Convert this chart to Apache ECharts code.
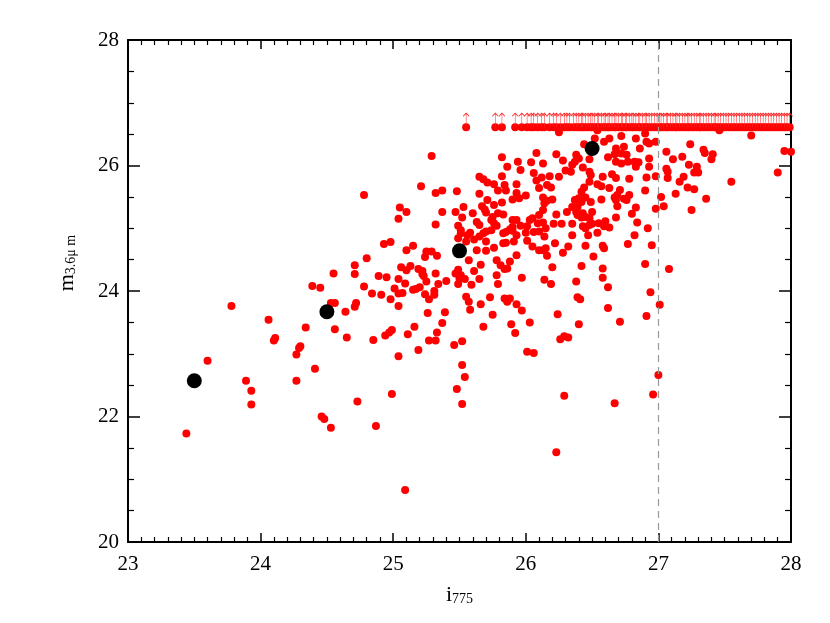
<!DOCTYPE html>
<html>
<head>
<meta charset="utf-8">
<script src="https://cdn.jsdelivr.net/npm/echarts@6/dist/echarts.min.js"></script>
<style>
  html, body { margin: 0; padding: 0; background: #fff; }
  #chart { width: 830px; height: 623px; }
</style>
</head>
<body>
<div id="chart"></div>
<script>
// detected sources [i775, m3.6um]
var detected = [
  [23.44,21.73],[23.60,22.89],[23.78,23.76],[23.89,22.57],[23.93,22.41],[23.93,22.19],[24.06,23.54],
  [24.10,23.21],[24.11,23.25],[24.27,22.99],[24.29,23.09],[24.30,23.12],[24.27,22.57],[24.34,23.42],
  [24.39,24.08],[24.45,24.05],[24.41,22.76],[24.53,23.81],[24.56,23.81],[24.56,23.39],[24.46,22.00],
  [24.48,21.96],[24.53,21.82],[24.73,22.24],[24.55,24.28],
  [24.87,21.85],[24.99,22.36],[25.09,20.83],[25.48,22.44],[25.54,22.63],[25.52,22.20],
  [25.65,25.82],[25.68,25.78],[25.71,25.73],[25.82,25.83],[25.76,25.70],[25.84,25.69],[25.93,25.70],
  [25.96,25.93],[26.06,25.88],[26.08,25.76],[24.78,25.53],[25.21,25.67],[25.32,25.56],[25.37,25.60],
  [25.48,25.59],[25.65,25.55],[25.79,25.60],[25.85,25.60],[25.93,25.56],[25.90,25.46],[25.95,25.48],
  [26.00,25.52],[26.10,25.64],[25.71,25.45],[25.82,25.41],[25.76,25.37],[25.67,25.35],[25.69,25.30],
  [25.70,25.25],[25.53,25.34],[25.37,25.26],[25.47,25.26],[25.05,25.33],[25.10,25.26],[25.04,25.15],
  [25.32,25.06],[25.49,25.04],[25.52,25.17],[25.60,25.24],[25.63,25.10],[25.65,25.05],[25.79,25.24],
  [25.83,25.22],[25.74,25.13],[25.76,25.08],[25.75,25.18],[25.90,25.13],[25.93,25.13],[26.05,25.16],
  [26.03,25.13],[26.01,25.03],[25.96,25.04],[25.90,25.02],[25.68,24.92],[25.70,24.95],[25.74,24.97],
  [25.78,25.04],[25.83,24.92],[25.85,24.94],[25.88,24.98],[25.90,24.96],[25.93,24.89],[26.00,24.93],
  [26.06,24.94],[26.09,25.08],[25.51,24.92],[25.56,24.89],[25.58,24.93],[25.65,24.87],[25.70,24.79],
  [25.61,24.82],[25.55,24.79],[25.49,24.84],[25.51,24.97],[24.93,24.75],[24.98,24.78],[25.15,24.72],
  [25.10,24.65],[25.25,24.63],[25.29,24.63],[25.24,24.54],[25.33,24.56],[24.80,24.52],[24.71,24.41],
  [24.71,24.27],[25.06,24.38],[25.13,24.40],[25.10,24.33],[25.19,24.35],[25.22,24.32],[25.23,24.24],
  [25.25,24.15],[25.32,24.28],[25.22,24.27],[24.89,24.24],[24.95,24.22],[25.04,24.19],[25.09,24.12],
  [25.40,24.16],[25.49,24.34],[25.47,24.28],[25.51,24.25],[25.49,24.11],[25.50,24.20],[25.54,24.19],
  [25.59,24.10],[25.65,24.19],[25.61,24.32],[25.66,24.42],[25.57,24.49],[25.63,24.65],[25.70,24.64],
  [25.76,24.69],[25.83,24.76],[25.85,24.77],[25.91,24.79],[25.93,24.57],[26.01,24.80],[26.05,24.71],
  [26.10,24.65],[25.78,24.49],[25.81,24.41],[25.84,24.35],[25.88,24.47],[25.86,24.36],[25.78,24.25],
  [25.79,24.11],[25.97,24.21],[24.78,24.07],[24.84,23.96],[24.91,23.94],[24.98,23.87],[25.01,24.04],
  [25.04,23.96],[25.07,23.97],[25.15,24.02],[25.20,24.06],[25.17,24.03],[25.24,23.95],[25.31,24.00],
  [25.31,23.94],[25.34,24.11],[25.27,23.87],[25.04,23.76],[24.64,23.67],[24.71,23.75],[24.72,23.81],
  [25.55,23.91],[25.57,23.83],[25.58,23.70],[25.66,23.79],[25.73,23.90],[25.84,23.88],[25.86,23.83],
  [25.88,23.88],[25.93,23.79],[25.97,23.69],[25.26,23.65],[25.39,23.66],[25.75,23.62],[25.37,23.49],
  [25.16,23.43],[25.33,23.34],[25.11,23.31],[24.99,23.38],[24.97,23.34],[24.94,23.29],[24.65,23.26],
  [24.85,23.22],[25.27,23.21],[25.32,23.21],[25.46,23.14],[25.52,23.20],[25.19,23.06],[25.04,22.96],
  [25.68,23.43],[25.89,23.47],[25.92,23.33],[26.03,23.50],[26.01,23.03],[26.06,23.01],[25.52,22.82],
  [26.25,26.53],[26.54,26.56],[26.52,26.43],[26.44,26.34],[26.59,26.38],[26.63,26.43],[26.72,26.47],
  [26.83,26.43],[26.90,26.51],[26.91,26.38],[26.93,26.35],[26.98,26.38],[26.68,26.27],[26.74,26.30],
  [26.86,26.27],[26.72,26.19],[26.67,26.18],[26.76,26.17],[26.23,26.18],[26.38,26.17],[26.40,26.11],
  [26.37,26.06],[26.28,26.08],[26.35,26.01],[26.62,26.13],[26.68,26.06],[26.72,26.03],[26.77,26.06],
  [26.82,26.06],[26.85,26.05],[26.93,26.11],[27.06,26.22],[26.13,26.03],[26.83,25.98],[26.93,25.98],
  [27.06,25.95],[26.34,25.90],[26.30,25.92],[26.43,25.97],[26.48,26.10],[26.25,25.82],[26.18,25.83],
  [26.12,25.81],[26.48,25.90],[26.49,25.85],[26.48,25.74],[26.58,25.82],[26.65,25.86],[26.68,25.80],
  [26.78,25.79],[26.91,25.81],[26.98,25.83],[27.07,25.90],[27.07,25.80],[26.16,25.69],[26.19,25.65],
  [26.44,25.65],[26.42,25.58],[26.54,25.70],[26.57,25.67],[26.63,25.64],[26.71,25.61],[26.69,25.53],
  [26.67,25.49],[26.76,25.45],[26.78,25.53],[26.74,25.47],[26.90,25.60],[27.02,25.50],[26.13,25.49],
  [26.20,25.46],[26.16,25.44],[26.14,25.40],[26.45,25.49],[26.40,25.48],[26.37,25.45],[26.35,25.34],
  [26.39,25.34],[26.42,25.42],[26.49,25.42],[26.57,25.46],[26.68,25.45],[26.69,25.35],[26.83,25.33],
  [27.04,25.35],[26.98,25.31],[26.13,25.29],[26.10,25.21],[26.23,25.22],[26.31,25.26],[26.39,25.21],
  [26.38,25.26],[26.43,25.24],[26.45,25.18],[26.50,25.26],[26.42,25.17],[26.48,25.16],[26.80,25.23],
  [26.68,25.17],[26.13,25.09],[26.21,25.07],[26.27,25.07],[26.35,25.07],[26.43,25.03],[26.45,25.00],
  [26.48,25.05],[26.50,25.07],[26.55,25.08],[26.60,25.11],[26.59,25.03],[26.63,25.01],[26.84,25.09],
  [26.15,25.00],[26.10,24.95],[26.14,24.87],[26.35,24.89],[26.47,24.89],[26.54,24.93],[26.82,24.89],
  [26.92,25.00],[26.15,24.68],[26.13,24.65],[26.22,24.76],[26.32,24.71],[26.28,24.61],[26.45,24.72],
  [26.58,24.72],[26.59,24.68],[26.51,24.55],[26.77,24.75],[26.95,24.73],[26.16,24.56],[26.20,24.38],
  [26.42,24.40],[26.58,24.36],[26.90,24.43],[26.14,24.18],[26.19,24.11],[26.38,24.15],[26.58,24.21],
  [26.62,24.06],[27.08,24.35],[26.39,23.90],[26.41,23.87],[26.94,23.98],[26.24,23.63],[26.62,23.73],
  [27.01,23.78],[26.40,23.47],[26.71,23.51],[26.91,23.60],[26.26,23.23],[26.29,23.28],[26.32,23.26],
  [27.46,26.56],[27.70,26.48],[27.24,26.34],[27.34,26.25],[27.35,26.20],[27.41,26.18],[27.40,26.10],
  [27.11,26.10],[27.18,26.14],[27.23,26.01],[27.29,25.98],[27.27,25.89],[27.30,25.89],[27.19,25.82],
  [27.16,25.74],[27.22,25.65],[27.27,25.62],[27.13,25.55],[27.36,25.47],[27.25,25.29],[27.55,25.74],
  [27.90,25.89],[27.95,26.23],[28.00,26.22],
  [25.29,26.15],[25.82,26.13],[25.86,25.98],[25.94,26.06],[26.04,26.05],[26.08,26.20],
  [27.00,22.66],[26.29,22.33],[26.67,22.21],[26.96,22.35],[26.23,21.43]
];

// upper limits (non-detections), all at the same magnitude
var limitY = 26.61;
var limitX = [
  25.55, 25.77, 25.82, 25.92, 25.97, 26.01, 26.04, 26.06, 26.09, 26.12, 26.14, 26.18, 26.21, 26.23,
  26.26, 26.29, 26.31, 26.33, 26.36, 26.38, 26.40, 26.42, 26.43, 26.45, 26.47, 26.49, 26.50, 26.52,
  26.54, 26.55, 26.57, 26.59, 26.60, 26.62, 26.63, 26.65, 26.67, 26.68, 26.70, 26.72, 26.73, 26.75,
  26.76, 26.78, 26.80, 26.81, 26.83, 26.85, 26.86, 26.88, 26.90, 26.91, 26.93, 26.95, 26.97, 26.99,
  27.01, 27.02, 27.04, 27.06, 27.07, 27.09, 27.11, 27.13, 27.14, 27.16, 27.18, 27.20, 27.22, 27.23,
  27.25, 27.27, 27.29, 27.31, 27.32, 27.34, 27.36, 27.38, 27.40, 27.42, 27.43, 27.45, 27.47, 27.49,
  27.51, 27.53, 27.55, 27.57, 27.59, 27.61, 27.63, 27.65, 27.67, 27.69, 27.71, 27.73, 27.75, 27.77,
  27.79, 27.81, 27.83, 27.85, 27.87, 27.89, 27.91, 27.93, 27.95, 27.97, 27.99
];

// binned means
var binX = [23.5, 24.5, 25.5, 26.5];
var binY = [22.57, 23.67, 24.64, 26.27];

var xTicks = [23, 24, 25, 26, 27, 28];
var yTicks = [20, 22, 24, 26, 28];
var cutX = 27;

var font = 'Liberation Serif';

function xAx(pos, showLabel) {
  return {
    type: 'value', position: pos, min: xTicks[0], max: xTicks[xTicks.length - 1], interval: 1,
    axisLine: { onZero: false, lineStyle: { color: '#000', width: 2 } },
    axisTick: { inside: true, length: 9, lineStyle: { color: '#000', width: 1.5 } },
    minorTick: { show: true, splitNumber: 10, length: 5, lineStyle: { color: '#000', width: 1.2 } },
    splitLine: { show: false },
    axisLabel: { show: showLabel, fontFamily: font, fontSize: 21, color: '#000', margin: 12 }
  };
}
function yAx(pos, showLabel) {
  return {
    type: 'value', position: pos, min: yTicks[0], max: yTicks[yTicks.length - 1], interval: 2,
    axisLine: { onZero: false, lineStyle: { color: '#000', width: 2 } },
    axisTick: { inside: true, length: 12, lineStyle: { color: '#000', width: 1.5 } },
    minorTick: { show: true, splitNumber: 4, length: 6, lineStyle: { color: '#000', width: 1.2 } },
    splitLine: { show: false },
    axisLabel: { show: showLabel, fontFamily: font, fontSize: 21, color: '#000', margin: 9 }
  };
}

var xb = xAx('bottom', true);
xb.name = '{i|i}{s|775}';
xb.nameLocation = 'middle';
xb.nameGap = 42;
xb.nameTextStyle = { fontFamily: font, color: '#000', rich: {
  i: { fontFamily: font, fontSize: 22, lineHeight: 22, verticalAlign: 'top', color: '#000' },
  s: { fontFamily: font, fontSize: 14, lineHeight: 14, verticalAlign: 'bottom', padding: [12, 0, 0, 0], color: '#000' }
} };

var yl = yAx('left', true);
yl.name = '{m|m}{s|3.6μ m}';
yl.nameLocation = 'middle';
yl.nameGap = 50;
yl.nameTextStyle = { fontFamily: font, color: '#000', padding: [0, 0, 0, 56], rich: {
  m: { fontFamily: font, fontSize: 22, lineHeight: 22, verticalAlign: 'top', color: '#000' },
  s: { fontFamily: font, fontSize: 14, lineHeight: 14, verticalAlign: 'bottom', padding: [12, 0, 0, 0], color: '#000' }
} };

var chart = echarts.init(document.getElementById('chart'));
chart.setOption({
  animation: false,
  backgroundColor: '#fff',
  grid: { left: 128, right: 39, top: 40, bottom: 81 },
  xAxis: [xb, xAx('top', false)],
  yAxis: [yl, yAx('right', false)],
  series: [
    {
      type: 'scatter', data: detected, symbolSize: 8,
      itemStyle: { color: '#ff0000', opacity: 1 }, z: 3,
      markLine: {
        silent: true, symbol: 'none', label: { show: false },
        lineStyle: { color: '#999', type: [7, 5], width: 1.2 },
        data: [{ xAxis: cutX }]
      }
    },
    {
      type: 'scatter', data: limitX.map(function (x) { return [x, limitY]; }), symbolSize: 8,
      itemStyle: { color: '#ff0000', opacity: 1 }, z: 3
    },
    {
      type: 'scatter', data: limitX.map(function (x) { return [x, limitY]; }),
      symbol: 'path://M3,0 L3,14 M0,3 L3,0 L6,3', symbolSize: [6, 14], symbolOffset: [0, -7],
      itemStyle: { color: 'rgba(0,0,0,0)', borderColor: '#ff2a2a', borderWidth: 0.8, opacity: 1 }, z: 3
    },
    {
      type: 'scatter', data: binX.map(function (x, i) { return [x, binY[i]]; }), symbolSize: 15,
      itemStyle: { color: '#000', opacity: 1 }, z: 4
    }
  ]
});
</script>
</body>
</html>
